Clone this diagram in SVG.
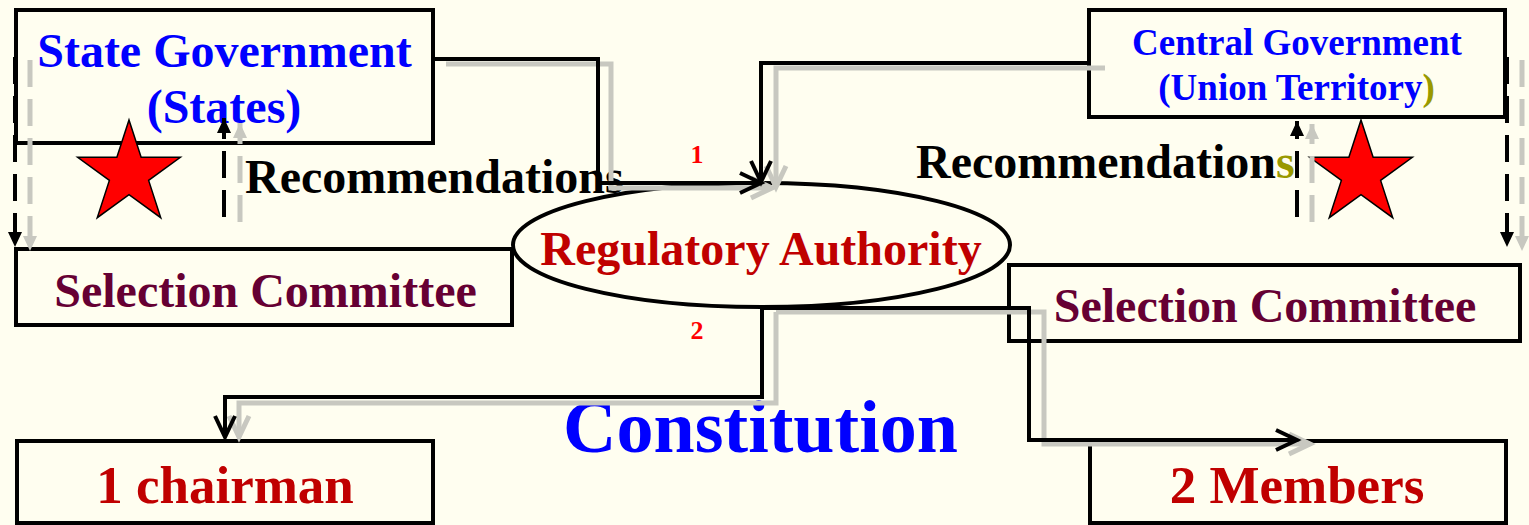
<svg xmlns="http://www.w3.org/2000/svg" width="1529" height="525" viewBox="0 0 1529 525">
<style>
text{font-family:"Liberation Serif","Times New Roman",serif;font-weight:bold;text-anchor:middle}
.box{fill:#FFFEF0;stroke:#000;stroke-width:4}
.blue{fill:#0000FF}
.maroon{fill:#660033}
.red{fill:#C00000}
.olive{fill:#999900}
.blk{fill:#000}
.ln{fill:none;stroke:#000;stroke-width:4;stroke-linejoin:miter}
.sh{fill:none;stroke:#C8C8C0;stroke-width:5;stroke-linejoin:miter}
.dash{stroke-dasharray:27 12}
</style>
<defs>
<marker id="openB" markerUnits="userSpaceOnUse" viewBox="-26 -14 30 28" markerWidth="30" markerHeight="28" refX="0" refY="0" orient="auto" overflow="visible">
<path d="M-21,-10 L0,0 L-21,10" fill="none" stroke="#000" stroke-width="4"/>
</marker>
<marker id="openG" markerUnits="userSpaceOnUse" viewBox="-26 -14 30 28" markerWidth="30" markerHeight="28" refX="0" refY="0" orient="auto" overflow="visible">
<path d="M-21,-10 L0,0 L-21,10" fill="none" stroke="#C8C8C0" stroke-width="5"/>
</marker>
<marker id="triB" markerUnits="userSpaceOnUse" viewBox="-16 -8 17 16" markerWidth="17" markerHeight="16" refX="0" refY="0" orient="auto" overflow="visible">
<path d="M-15,-7 L0,0 L-15,7 Z" fill="#000"/>
</marker>
<marker id="triG" markerUnits="userSpaceOnUse" viewBox="-16 -8 17 16" markerWidth="17" markerHeight="16" refX="0" refY="0" orient="auto" overflow="visible">
<path d="M-15,-7 L0,0 L-15,7 Z" fill="#C8C8C0"/>
</marker>
<polygon id="star" points="0,-54 12.13,-16.69 51.36,-16.69 19.62,6.37 31.74,43.69 0,20.63 -31.74,43.69 -19.62,6.37 -51.36,-16.69 -12.13,-16.69" fill="#FF0000" stroke="#000" stroke-width="1.5" stroke-linejoin="miter"/>
</defs>
<rect x="0" y="0" width="1529" height="525" fill="#FFFEF0"/>

<g id="state-government">
<rect class="box" x="16" y="10" width="417" height="133"/>
<text class="blue" x="224.5" y="67" font-size="48">State Government</text>
<text class="blue" x="224" y="123" font-size="48">(States)</text>
</g>
<g id="selection-committee-left">
<rect class="box" x="16" y="249" width="496" height="76"/>
<text class="maroon" x="265.5" y="307" font-size="48">Selection Committee</text>
</g>
<g id="central-government">
<rect class="box" x="1089" y="10" width="416" height="107"/>
<text class="blue" x="1297" y="55" font-size="37">Central Government</text>
<text class="blue" x="1296.5" y="100" font-size="37">(Union Territory<tspan class="olive">)</tspan></text>
</g>
<g id="selection-committee-right">
<rect class="box" x="1009" y="265" width="511" height="76"/>
<text class="maroon" x="1265" y="322" font-size="48">Selection Committee</text>
</g>
<g id="regulatory-authority">
<ellipse cx="761.5" cy="245" rx="248.5" ry="62" fill="#FFFEF0" stroke="#000" stroke-width="4"/>
<text class="red" x="761" y="265" font-size="48">Regulatory Authority</text>
</g>
<g id="chairman">
<rect class="box" x="17" y="441" width="416" height="82"/>
<text class="red" x="225" y="503" font-size="53">1 chairman</text>
</g>
<g id="members">
<rect class="box" x="1090" y="441" width="416" height="82"/>
<text class="red" x="1297" y="503" font-size="53">2 Members</text>
</g>
<g id="stars">
<use href="#star" x="129" y="174"/>
<use href="#star" x="1361" y="174"/>
</g>
<g id="labels">
<text class="blk" x="245" y="193" font-size="48" style="text-anchor:start">Recommendations</text>
<text class="blk" x="916" y="178" font-size="48" style="text-anchor:start">Recommendation<tspan class="olive">s</tspan></text>
<text class="blue" x="760.5" y="452" font-size="74">Constitution</text>
<text x="697" y="163" font-size="26" fill="#FF0000">1</text>
<text x="697" y="339" font-size="26" fill="#FF0000">2</text>
</g>

<g id="connectors">
<path class="sh" d="M446,64 H611 V188 H772" marker-end="url(#openG)"/>
<path class="sh" d="M1105,68 H776 V187" marker-end="url(#openG)"/>
<path class="sh" d="M776,312 V403 H239 V437" marker-end="url(#openG)"/>
<path class="sh" d="M776,312 H1044 V444 H1310" marker-end="url(#openG)"/>
<path class="sh dash" d="M30,60 V251" marker-end="url(#triG)"/>
<path class="sh dash" d="M240,222 V123" marker-end="url(#triG)"/>
<path class="sh dash" d="M1312,222 V124" marker-end="url(#triG)"/>
<path class="sh dash" d="M1522,60 V251" marker-end="url(#triG)"/>

<path class="ln" d="M433,59 H598 V183 H761" marker-end="url(#openB)"/>
<path class="ln" d="M1089,63 H761 V182" marker-end="url(#openB)"/>
<path class="ln" d="M762,307 V397 H225 V437" marker-end="url(#openB)"/>
<path class="ln" d="M762,308 H1029 V440 H1297" marker-end="url(#openB)"/>
<path class="ln dash" d="M15,57 V247" marker-end="url(#triB)"/>
<path class="ln dash" d="M224,217 V118" marker-end="url(#triB)"/>
<path class="ln dash" d="M1297,217 V121" marker-end="url(#triB)"/>
<path class="ln dash" d="M1507,57 V247" marker-end="url(#triB)"/>
</g>
</svg>
